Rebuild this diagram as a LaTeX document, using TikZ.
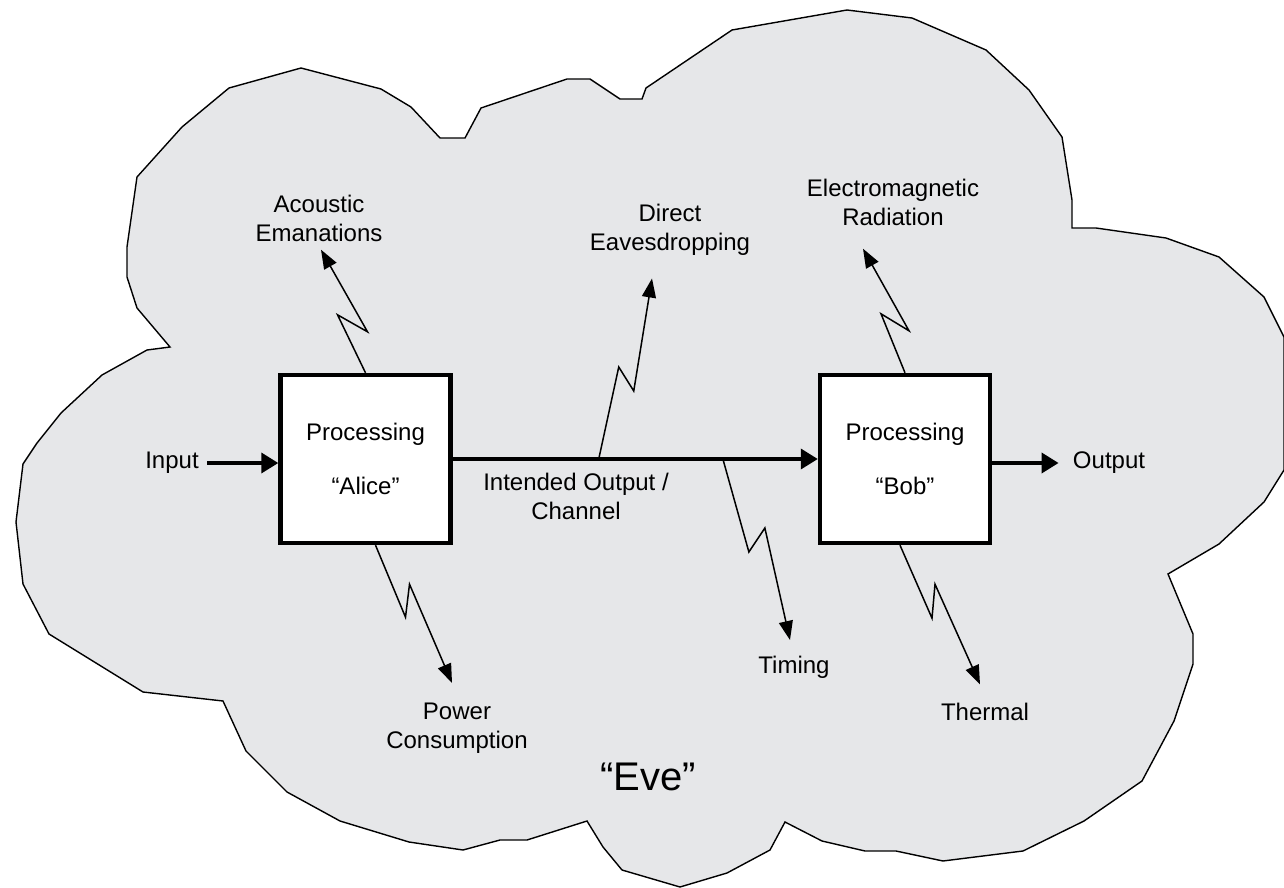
\documentclass[tikz,border=0pt]{standalone}
\usepackage{fontspec}
\setmainfont{Liberation Sans}
\usetikzlibrary{arrows.meta}
\definecolor{evegray}{RGB}{230,231,233}
\begin{document}
\begin{tikzpicture}[x=0.5pt, y=-0.5pt, font=\fontsize{12}{14.5}\selectfont,
	box/.style={draw, line width=2.2pt, fill=white, minimum width=85pt, minimum height=84pt, align=center},
	lbl/.style={align=center, inner sep=4pt},
	flow/.style={line width=1.8pt, -{Triangle[length=8.5pt, width=10pt]}},
	zap/.style={line width=0.75pt, -{Triangle[length=9.5pt, width=7pt]}}]
	\useasboundingbox (0,0) rectangle (1284,888);
	\draw[fill=evegray, line width=0.7pt] (229,88) -- (301,68) -- (381,89) -- (411,107) -- (440,138) -- (465,138)
		-- (481,108) -- (567,79) -- (590,79) -- (620,99) -- (642,99) -- (646,88) -- (732,30) -- (847,10)
		-- (912,18) -- (986,50) -- (1029,90) -- (1062,137) -- (1072,200) -- (1072,228) -- (1096,228)
		-- (1166,238) -- (1219,257) -- (1264,297) -- (1284,337) -- (1284,470) -- (1264,502) -- (1219,544)
		-- (1168,574) -- (1193,634) -- (1193,664) -- (1174,721) -- (1142,781) -- (1084,821) -- (1023,851)
		-- (943,861) -- (896,851) -- (865,851) -- (822,841) -- (785,822) -- (770,850) -- (727,873)
		-- (680,887) -- (622,870) -- (603,847) -- (587,821) -- (527,840) -- (500,840) -- (463,850)
		-- (409,842) -- (340,821) -- (287,792) -- (246,751) -- (223,701) -- (143,692) -- (49,634)
		-- (23,584) -- (16,522) -- (23,464) -- (37,443) -- (61,413) -- (102,375) -- (147,350) -- (170,347)
		-- (137,308) -- (127,277) -- (127,247) -- (137,177) -- (182,127) -- cycle;

	\node[box] at (365.5,459) (alice) {Processing\\[12.5pt]``Alice''};
	\node[box] at (905,459) (bob) {Processing\\[12.5pt]``Bob''};
	\node[lbl] at (172,463) (input) {Input};
	\node[lbl] at (1109,463) (output) {Output};
	\node[lbl] at (576,496) (channel) {Intended Output /\\Channel};
	\node[lbl] at (319,218) (acoustic) {Acoustic\\Emanations};
	\node[lbl] at (670,230) (direct) {Direct\\Eavesdropping};
	\node[lbl] at (893,202) (em) {Electromagnetic\\Radiation};
	\node[lbl] at (457,728) (power) {Power\\Consumption};
	\node[lbl] at (794,667) (timing) {Timing};
	\node[lbl] at (985,712) (thermal) {Thermal};
	\node[font=\fontsize{20}{24}\selectfont] at (648,777) (eve) {``Eve''};

	\draw[flow] (input.east) -- (input.east -| alice.west);
	\draw[flow] (alice.east) -- (bob.west) coordinate[pos=0.4] (tapA) coordinate[pos=0.74] (tapB);
	\draw[flow, shorten >=3pt] (bob.east |- output) -- (output);

	\draw[zap] (alice.north) -- ++(-28,-58) -- ++(30,17) -- ([xshift=1pt]acoustic.south);
	\draw[zap] (tapA) -- ++(20,-92) -- ++(15,24) -- ([xshift=-9pt, yshift=-7.2pt]direct.south);
	\draw[zap] (bob.north) -- ++(-24,-59) -- ++(28,17) -- ([xshift=-15pt, yshift=-7.5pt]em.south);
	\draw[zap] ([xshift=5pt]alice.south) -- ++(30,72) -- ++(4,-33) -- ([xshift=-2.5pt, yshift=5.7pt]power.north);
	\draw[zap] (tapB) -- ++(26,93) -- ++(16,-24) -- ([xshift=-2pt, yshift=3.7pt]timing.north);
	\draw[zap] ([xshift=-2.5pt]bob.south) -- ++(32,73) -- ++(3,-34) -- ([xshift=-2.5pt, yshift=5.2pt]thermal.north);
\end{tikzpicture}
\end{document}
